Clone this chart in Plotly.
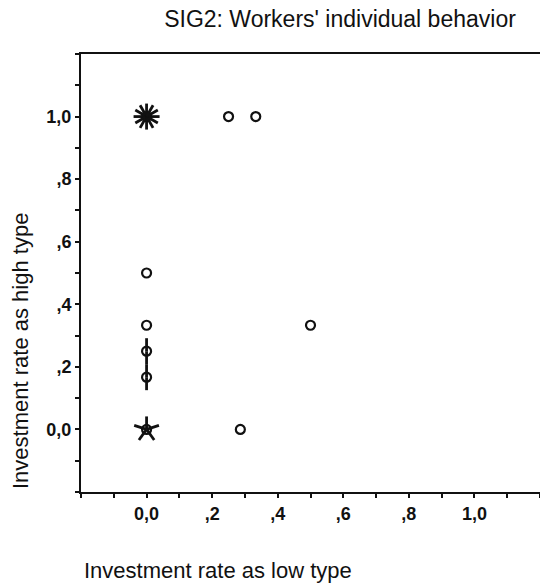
import numpy as np
import plotly.graph_objects as go

# Observed (low-type rate, high-type rate) pairs and how many workers share each pair
low_rate = [0.0, 0.25, 0.333, 0.0, 0.0, 0.5, 0.0, 0.0, 0.0, 0.286]
high_rate = [1.0, 1.0, 1.0, 0.5, 0.333, 0.333, 0.25, 0.167, 0.0, 0.0]
n_cases = [12, 1, 1, 1, 1, 1, 2, 2, 5, 1]

x_ticks = [round(-0.2 + 0.1 * i, 1) for i in range(15)]
y_ticks = [round(-0.2 + 0.1 * i, 1) for i in range(15)]
tick_text = {0.0: "0,0", 0.2: ",2", 0.4: ",4", 0.6: ",6", 0.8: ",8", 1.0: "1,0"}

W, H = 540, 588
ML, MR, MT, MB = 81, 0, 54, 96
X_RANGE = [-0.2, 1.2]
Y_RANGE = [-0.2, 1.2]
px_per_x = (W - ML - MR) / (X_RANGE[1] - X_RANGE[0])
px_per_y = (H - MT - MB) / (Y_RANGE[1] - Y_RANGE[0])

# Sunflower petals: one spoke per case when several cases coincide
PETAL_PX = 13
px_, py_ = [], []
for x, y, n in zip(low_rate, high_rate, n_cases):
    if n < 2:
        continue
    for k in range(n):
        a = np.pi / 2 + 2 * np.pi * k / n
        px_ += [x, x + PETAL_PX * np.cos(a) / px_per_x, None]
        py_ += [y, y + PETAL_PX * np.sin(a) / px_per_y, None]

fig = go.Figure()
fig.add_trace(go.Scatter(
    x=low_rate, y=high_rate, mode="markers",
    marker=dict(symbol="circle-open", size=9, color="#111",
                line=dict(width=2.2, color="#111")),
    cliponaxis=False, hoverinfo="x+y",
))
fig.add_trace(go.Scatter(
    x=px_, y=py_, mode="lines", line=dict(color="#111", width=2.8),
    hoverinfo="skip", cliponaxis=False,
))

tick_font = dict(family="Arial, Liberation Sans", size=18, color="#111")
fig.update_xaxes(
    range=X_RANGE, tickvals=x_ticks,
    ticktext=[f"<b>{tick_text[v]}</b>" if v in tick_text else "" for v in x_ticks],
    showgrid=False, zeroline=False, showline=True, linecolor="#111",
    linewidth=2, mirror=True, ticks="outside", ticklen=4, tickwidth=2,
    tickcolor="#111", tickfont=tick_font,
)
fig.update_yaxes(
    range=Y_RANGE, tickvals=y_ticks,
    ticktext=[f"<b>{tick_text[v]}</b>" if v in tick_text else "" for v in y_ticks],
    showgrid=False, zeroline=False, showline=True, linecolor="#111",
    linewidth=2, ticks="outside", ticklen=4, tickwidth=2,
    tickcolor="#111", tickfont=tick_font,
)

plot_w = W - ML - MR
plot_h = H - MT - MB
def paper_x(px):
    return (px - ML) / plot_w
def paper_y(py):
    return (H - MB - py) / plot_h

label_font = dict(family="Arial, Liberation Sans", size=22, color="#111")
fig.add_annotation(text="Investment rate as high type", textangle=-90,
                   xref="paper", yref="paper", x=paper_x(20), y=paper_y(351),
                   xanchor="center", yanchor="middle", showarrow=False,
                   font=label_font)
fig.add_annotation(text="Investment rate as low type",
                   xref="paper", yref="paper", x=paper_x(82), y=paper_y(570),
                   xanchor="left", yanchor="middle", showarrow=False,
                   font=label_font)

fig.update_layout(
    width=W, height=H,
    margin=dict(l=ML, r=MR, t=MT, b=MB),
    paper_bgcolor="white", plot_bgcolor="white",
    showlegend=False,
    title=dict(text="SIG2: Workers' individual behavior",
               x=340 / W, xanchor="center", y=1 - 19 / H, yanchor="middle",
               font=dict(family="Arial, Liberation Sans", size=23, color="#111")),
)

fig.write_html("out.html")
